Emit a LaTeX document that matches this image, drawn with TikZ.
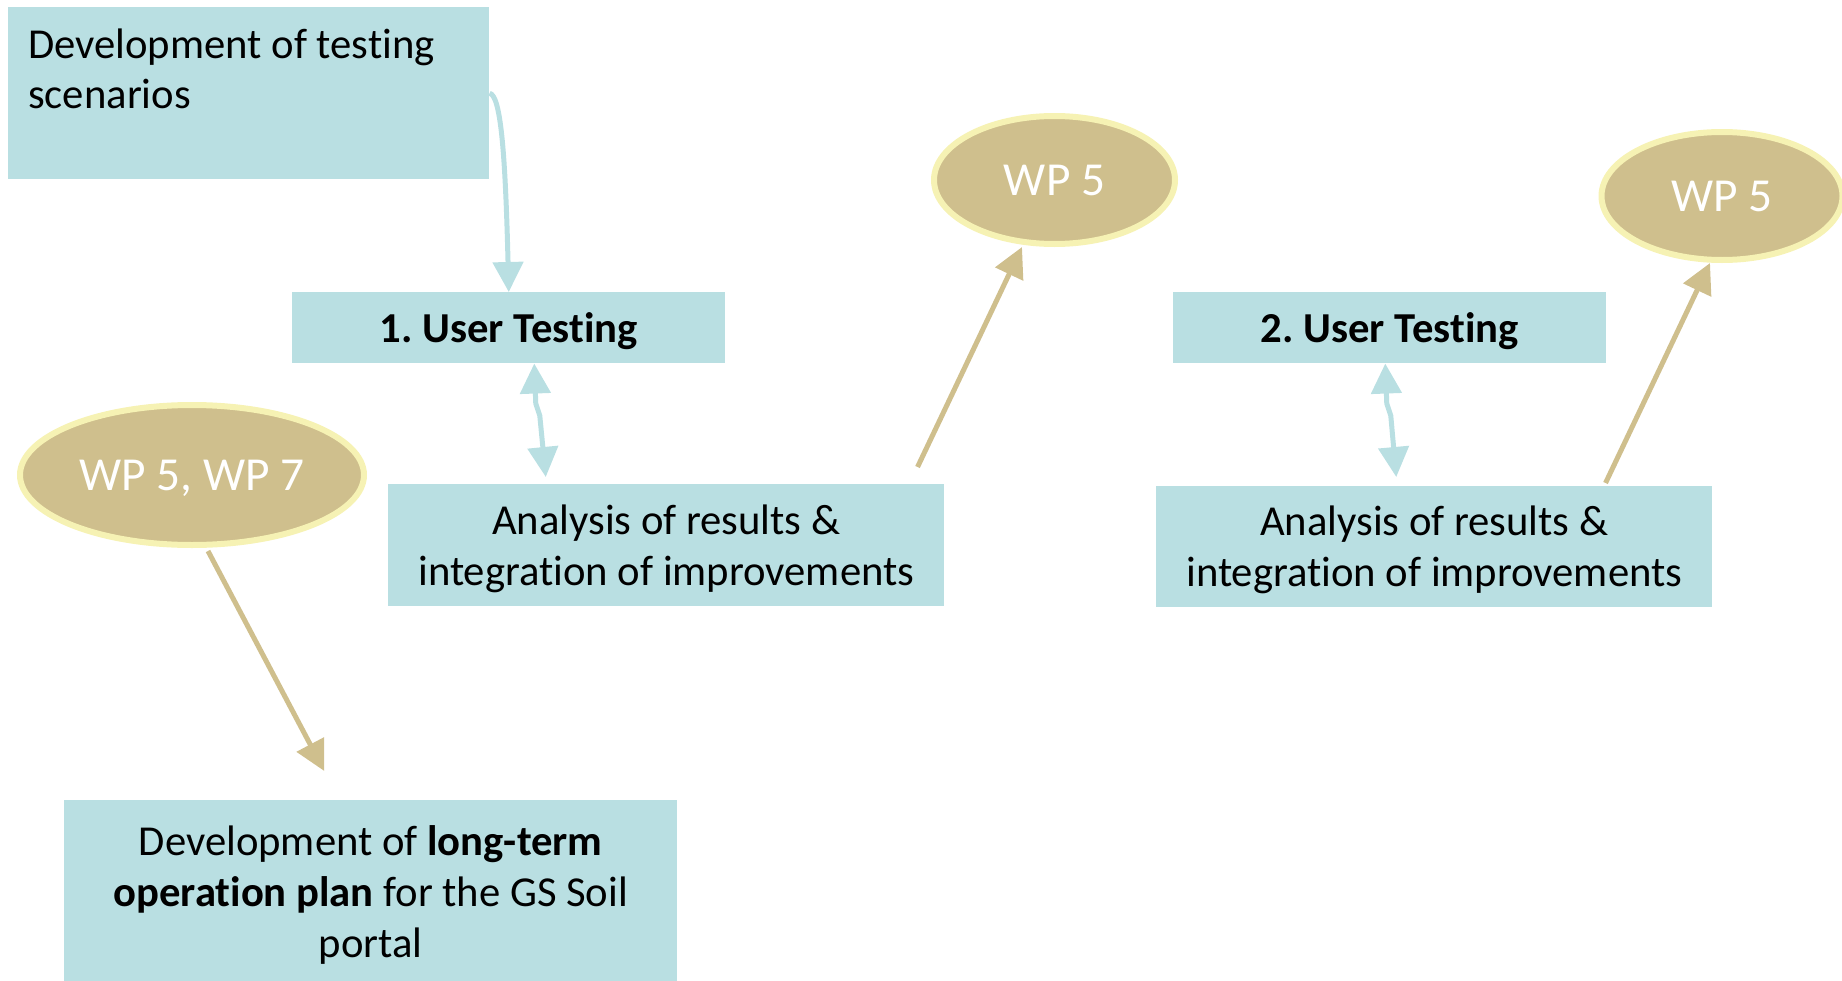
\documentclass[tikz,border=0pt]{standalone}
\usepackage{fontspec}
\setmainfont{Carlito}[Ligatures={NoCommon,NoRare}]
\usetikzlibrary{arrows.meta,shapes.geometric,calc}
\frenchspacing

% one drawing unit = 0.75pt
\newlength{\pxl}\setlength{\pxl}{0.75pt}
\definecolor{boxteal}{HTML}{B9DFE2}
\definecolor{wptan}{HTML}{CFBF8D}
\definecolor{wprim}{HTML}{F6F2B4}
% fixed line height so every box places its text the same way
\newcommand{\tstrut}{\rule[-10\pxl]{0pt}{49\pxl}}

\begin{document}
\begin{tikzpicture}[x=0.75pt,y=-0.75pt,
  taskbox/.style={rectangle, fill=boxteal, draw=none, inner sep=0pt,
    anchor=north west, align=center,
    font=\fontsize{32pt}{38.5pt}\selectfont},
  wpnode/.style={ellipse, fill=wptan, draw=wprim, line width=4.5pt,
    inner sep=0pt, minimum width=180.75pt, minimum height=96pt,
    text=white, font=\fontsize{35.5pt}{40pt}\selectfont,
    text height=22.6pt, text depth=0pt},
  tanarrow/.style={draw=wptan, line width=3.75pt,
    -{Triangle[width=22.5pt,length=22.5pt]}},
  tealarrow/.style={draw=boxteal, line width=3.75pt,
    -{Triangle[width=22.5pt,length=22.5pt]}},
  tealdbl/.style={draw=boxteal, line width=3.75pt, line join=round,
    {Triangle[width=22.5pt,length=22.5pt]}-{Triangle[width=22.5pt,length=22.5pt]}},
]
\useasboundingbox (0,0) rectangle (1842,981);

% task boxes
\node[taskbox, align=flush left, text width=330.75pt, inner xsep=15pt,
      minimum height=129pt, font=\fontsize{32pt}{37.5pt}\selectfont]
  (dev) at (8,7) {\tstrut Development of testing\\
                  scenarios\rule[-58\pxl]{0pt}{94\pxl}};
\node[taskbox, minimum width=324.75pt, minimum height=53.25pt]
  (ut1) at (292,292) {\tstrut\textbf{1. User Testing}};
\node[taskbox, minimum width=417pt, minimum height=91.5pt]
  (an1) at (388,484) {\tstrut Analysis of results \&\\ \tstrut integration of improvements};
\node[taskbox, minimum width=324.75pt, minimum height=53.25pt]
  (ut2) at (1173,292) {\tstrut\textbf{2. User Testing}};
\node[taskbox, minimum width=417pt, minimum height=90.75pt]
  (an2) at (1156,486) {\tstrut Analysis of results \&\\ \tstrut integration of improvements};
\node[taskbox, minimum width=459.75pt, minimum height=137.7pt]
  (plan) at (64,800) {\tstrut Development of \textbf{long-term}\\
                      \tstrut\textbf{operation plan} for the GS Soil\\
                      \tstrut portal};

% work package ellipses
\node[wpnode] (wp1) at (1054.5,180) {WP 5};
\node[wpnode] (wp2) at (1722,196) {WP 5};
\node[wpnode, minimum width=258pt, minimum height=105pt] (wp3) at (192,475) {WP 5, WP 7};

% connectors
\draw[tealarrow] (dev.east) .. controls ($(dev.east)+(11,2)$) and ($(ut1.north)+(-3.5,-142)$) .. (ut1.north);

\draw[tealdbl] ($(ut1.south)+(25.5,0)$) -- ++(1.5,40) -- ++(4,12) -- ($(an1.north)+(-120.5,-7)$);
\draw[tealdbl] ($(ut2.south)+(-4.5,0)$) -- ++(1.5,40) -- ++(4,12) -- ($(an2.north)+(-38,-9)$);

\draw[tanarrow] ($(an1.north east)+(-27,-17)$) -- ($(wp1.south)+(-32.5,0)$);
\draw[tanarrow] ($(an2.north east)+(-107,-3)$) -- ($(wp2.south)+(-12,0)$);
\draw[tanarrow] ($(wp3.south)+(16,3)$) -- ($(plan.north)+(-46.5,-29)$);
\end{tikzpicture}
\end{document}
